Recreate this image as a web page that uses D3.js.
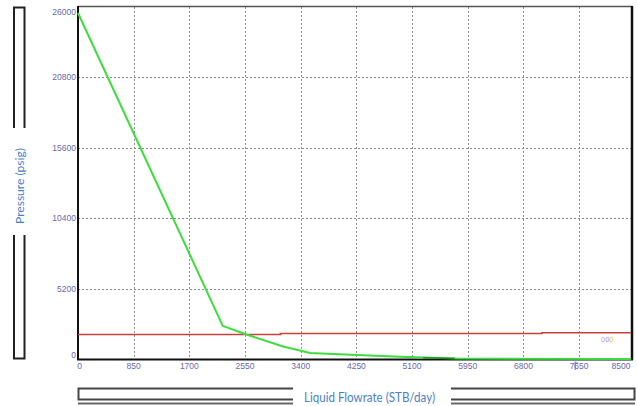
<!DOCTYPE html>
<html>
<head>
<meta charset="utf-8">
<script src="https://cdn.jsdelivr.net/npm/d3@7"></script>
<style>
  html, body { margin: 0; padding: 0; background: #ffffff; }
  svg { display: block; }
  .tick-label { font-family: "Liberation Sans Narrow", "Liberation Sans", Arial, sans-serif; font-size: 8.5px; fill: #6b6aa8; }
  .axis-title { font-family: Lato, "Open Sans", sans-serif; fill: #4f7fc4; }
</style>
</head>
<body>
<svg id="chart" width="637" height="406"></svg>
<script>
// Axis tick values
const xTicks = [0, 850, 1700, 2550, 3400, 4250, 5100, 5950, 6800, 7650, 8500];
const yTicks = [0, 5200, 10400, 15600, 20800, 26000];

// Inflow curve (liquid flowrate STB/day, pressure psig)
const inflowRate = [0, 2210, 2570, 3130, 3545, 4260, 4920, 5780, 8440];
const inflowPressure = [25550, 2450, 1810, 925, 445, 295, 170, 35, 0];

// Short darker segment of the inflow curve near the tail
const tailRate = [5270, 5750];
const tailPressure = [95, 40];

// Outflow curve, stepped
const outflowRate = [0, 3090, 7085, 8440];
const outflowPressure = [1810, 1880, 1940, 1940];

const svg = d3.select("#chart");

const plot = { left: 78, right: 631.5, top: 6.9, bottom: 359 };

const x = d3.scaleLinear().domain([0, 8450]).range([plot.left, plot.right]);
const y = d3.scaleLinear().domain([0, 26000]).range([plot.bottom, plot.top]);

// Dotted grid
const grid = svg.append("g").attr("stroke", "#8a8a8a").attr("stroke-width", 1)
  .attr("stroke-dasharray", "2,2");
xTicks.filter(v => v > 0 && x(v) < plot.right - 2).forEach(v => {
  grid.append("line")
    .attr("x1", Math.round(x(v)) + 0.5).attr("x2", Math.round(x(v)) + 0.5)
    .attr("y1", plot.top).attr("y2", plot.bottom);
});
yTicks.filter(v => v > 0 && y(v) > plot.top + 2).forEach(v => {
  grid.append("line")
    .attr("x1", plot.left).attr("x2", plot.right)
    .attr("y1", Math.round(y(v)) + 0.5).attr("y2", Math.round(y(v)) + 0.5);
});

// Plot frame
svg.append("line").attr("x1", plot.left).attr("x2", plot.right + 1)
  .attr("y1", 6.5).attr("y2", 6.5).attr("stroke", "#555").attr("stroke-width", 1.5);
svg.append("line").attr("x1", plot.right + 0.5).attr("x2", plot.right + 0.5)
  .attr("y1", 6).attr("y2", plot.bottom + 1).attr("stroke", "#111").attr("stroke-width", 2.5);
svg.append("line").attr("x1", plot.left).attr("x2", plot.left)
  .attr("y1", 6).attr("y2", plot.bottom + 1).attr("stroke", "#111").attr("stroke-width", 2);
svg.append("line").attr("x1", plot.left - 1).attr("x2", plot.right + 1.5)
  .attr("y1", plot.bottom + 0.5).attr("y2", plot.bottom + 0.5).attr("stroke", "#111").attr("stroke-width", 2);

// Tick labels, kept inside the plot extent
const yLab = svg.append("g");
yTicks.forEach(v => {
  const yy = Math.max(12, Math.min(355.5, y(v)));
  yLab.append("text").attr("class", "tick-label")
    .attr("x", 76).attr("y", yy).attr("dy", "0.35em")
    .attr("text-anchor", "end").text(v);
});
const xLab = svg.append("g");
xTicks.forEach(v => {
  let xx = x(v);
  let anchor = "middle";
  if (v === 0) xx = 79.5;
  if (xx > plot.right - 10) { xx = plot.right - 1; anchor = "end"; }
  xLab.append("text").attr("class", "tick-label")
    .attr("x", xx).attr("y", 366).attr("dy", "0.35em")
    .attr("text-anchor", anchor).text(v);
});

// Curves
const line = d3.line().x(d => x(d[0])).y(d => y(d[1]));

svg.append("path")
  .datum(d3.zip(outflowRate, outflowPressure))
  .attr("fill", "none").attr("stroke", "#c93f3c").attr("stroke-width", 1.6)
  .attr("d", d3.line().x(d => x(d[0])).y(d => y(d[1])).curve(d3.curveStepAfter));

svg.append("path")
  .datum(d3.zip(inflowRate, inflowPressure))
  .attr("fill", "none").attr("stroke", "#3fdc3f").attr("stroke-width", 2)
  .attr("stroke-linejoin", "round")
  .attr("d", line);

svg.append("path")
  .datum(d3.zip(tailRate, tailPressure))
  .attr("fill", "none").attr("stroke", "#1f8a1f").attr("stroke-width", 1.6)
  .attr("d", line);

// Small marker labels near the right edge
const marks = svg.append("text")
  .attr("x", 601).attr("y", 339).attr("dy", "0.35em")
  .attr("font-family", "Liberation Sans, Arial, sans-serif").attr("font-size", 7.5);
marks.append("tspan").attr("fill", "#e58ad8").text("0");
marks.append("tspan").attr("fill", "#6fa6ee").text("0");
marks.append("tspan").attr("fill", "#ecc63a").text("0");

svg.append("path")
  .attr("d", `M${x(7650) - 4},361.5 L${x(7650) - 4},370 M${x(7650) - 4},363 L${x(7650) - 1},363`)
  .attr("stroke", "#8a5ad8").attr("stroke-width", 1).attr("fill", "none");

// Y-axis title with bracket frame
const yTitleX = 20, yTitleY = 186;
svg.append("text").attr("class", "axis-title")
  .attr("transform", `translate(${yTitleX},${yTitleY}) rotate(-90)`)
  .attr("text-anchor", "middle").attr("dy", "0.35em")
  .attr("font-size", 12).attr("textLength", 76).attr("lengthAdjust", "spacingAndGlyphs")
  .text("Pressure (psig)");

const frame = svg.append("g").attr("fill", "none").attr("stroke", "#222").attr("stroke-width", 2);
frame.append("path").attr("d", "M14,128 L14,7.5 L24.5,7.5 L24.5,128");
frame.append("path").attr("d", "M14,235 L14,358.5 L24.5,358.5 L24.5,235");

// X-axis title with bracket frame
svg.append("text").attr("class", "axis-title")
  .attr("x", 304).attr("y", 398).attr("dy", "0.35em")
  .attr("font-size", 12.5).attr("textLength", 131).attr("lengthAdjust", "spacingAndGlyphs")
  .text("Liquid Flowrate (STB/day)");

const hFrame = svg.append("g").attr("fill", "none").attr("stroke-width", 2);
hFrame.append("path").attr("stroke", "#444")
  .attr("d", "M293,388.5 L78.5,388.5 L78.5,399.5 L293,399.5");
hFrame.append("line").attr("stroke", "#666")
  .attr("x1", 78).attr("x2", 293).attr("y1", 403.5).attr("y2", 403.5);
hFrame.append("path").attr("stroke", "#444")
  .attr("d", "M451,388.5 L634.5,388.5 L634.5,399.5 L451,399.5");
hFrame.append("line").attr("stroke", "#666")
  .attr("x1", 451).attr("x2", 635).attr("y1", 403.5).attr("y2", 403.5);
</script>
</body>
</html>
